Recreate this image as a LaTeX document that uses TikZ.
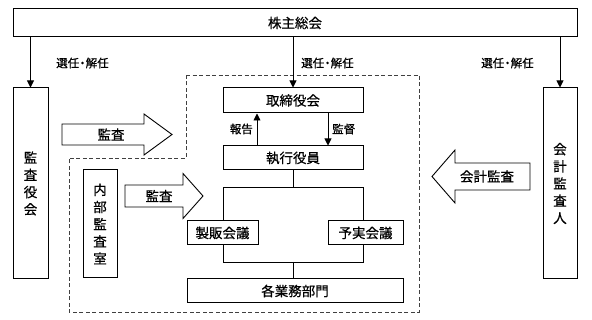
\documentclass[tikz,border=0pt]{standalone}
\usepackage{fontspec}
\setmainfont{Noto Sans CJK JP}[FakeBold=0.6]
\usetikzlibrary{arrows.meta,calc}
\begin{document}
\begin{tikzpicture}[x=1pt,y=-1pt,
  box/.style={draw, line width=1pt, inner sep=0pt, align=center, font=\fontsize{13.5}{17}\selectfont},
  vbox/.style={draw, line width=1pt, inner sep=0pt, align=center, font=\fontsize{13.5}{17.2}\selectfont},
  lbl/.style={inner sep=0pt, font=\fontsize{11.5}{12}\selectfont},
  btxt/.style={inner sep=0pt, font=\fontsize{13.5}{15}\selectfont},
  arr/.style={-{Triangle[length=7pt,width=7pt]}, line width=0.9pt},
  ln/.style={line width=0.9pt},
  blk/.style={draw, line width=0.9pt, fill=white, line join=miter},
  dsh/.style={draw=black!75, line width=0.9pt, dash pattern=on 4pt off 2.5pt}]
\useasboundingbox (0,0) rectangle (592,320);
% dashed region
\draw[dsh] (186,75) -- (419,75) -- (419,312) -- (69,312) -- (69,158) -- (186,158) -- cycle;
% boxes
\node[box, minimum width=564pt, minimum height=28pt] (top) at (295,23) {株主総会};
\node[vbox, minimum width=35pt, minimum height=191pt] (kansa) at (30.5,183.5) {監\\査\\役\\会};
\node[vbox, minimum width=34pt, minimum height=191pt] (kaikei) at (560,183.5) {会\\計\\監\\査\\人};
\node[box, minimum width=140pt, minimum height=25pt] (board) at (293,100.5) {取締役会};
\node[box, minimum width=140pt, minimum height=24pt] (exec) at (293,158) {執行役員};
\node[box, minimum width=71pt, minimum height=24pt] (seihan) at (222.5,233) {製販会議};
\node[box, minimum width=75pt, minimum height=24pt] (yojitsu) at (365.5,233) {予実会議};
\node[box, minimum width=216pt, minimum height=24pt] (gyomu) at (295,291) {各業務部門};
\node[vbox, minimum width=34pt, minimum height=108pt] (naibu) at (100,224) {内\\部\\監\\査\\室};
% election arrows
\draw[arr] (top.south -| kansa.north) -- (kansa.north);
\draw[arr] (top.south -| board.north) -- (board.north);
\draw[arr] (top.south -| kaikei.north) -- (kaikei.north);
\node[lbl] (l1) at (82.5,63) {選任\hspace{-2.5pt}・\hspace{-2.5pt}解任};
\node[lbl] (l2) at (327.5,63) {選任\hspace{-2.5pt}・\hspace{-2.5pt}解任};
\node[lbl] (l3) at (507.5,63) {選任\hspace{-2.5pt}・\hspace{-2.5pt}解任};
% report / supervise
\coordinate (rp) at (257,0);
\coordinate (sp) at (328,0);
\draw[arr] (exec.north -| rp) -- (board.south -| rp);
\draw[arr] (board.south -| sp) -- (exec.north -| sp);
\node[lbl, anchor=east] (hk) at (253,129) {報告};
\node[lbl, anchor=west] (kt) at (332,129) {監督};
% tree
\coordinate (t1) at (293,187);
\coordinate (tl) at (223,187);
\coordinate (tr) at (363,187);
\coordinate (b1) at (293,262);
\coordinate (bl) at (223,262);
\coordinate (br) at (363,262);
\draw[ln] (exec.south) -- (t1);
\draw[ln] (seihan.north -| tl) -- (tl) -- (tr) -- (yojitsu.north -| tr);
\draw[ln] (seihan.south -| bl) -- (bl) -- (br) -- (yojitsu.south -| br);
\draw[ln] (b1) -- (gyomu.north -| b1);
% block arrows
\draw[blk] (62,124) -- (144,124) -- (144,114) -- (172,134.5) -- (144,155) -- (144,145) -- (62,145) -- cycle;
\node[btxt] (ka1) at (111,134.5) {監査};
\draw[blk] (125,185) -- (183,185) -- (183,173.5) -- (203,196) -- (183,218.5) -- (183,207) -- (125,207) -- cycle;
\node[btxt] (ka2) at (159,196) {監査};
\draw[blk] (530,163) -- (455,163) -- (455,150) -- (432,176.5) -- (455,203) -- (455,190) -- (530,190) -- cycle;
\node[btxt] (ka3) at (487,176.5) {会計監査};
\end{tikzpicture}
\end{document}
